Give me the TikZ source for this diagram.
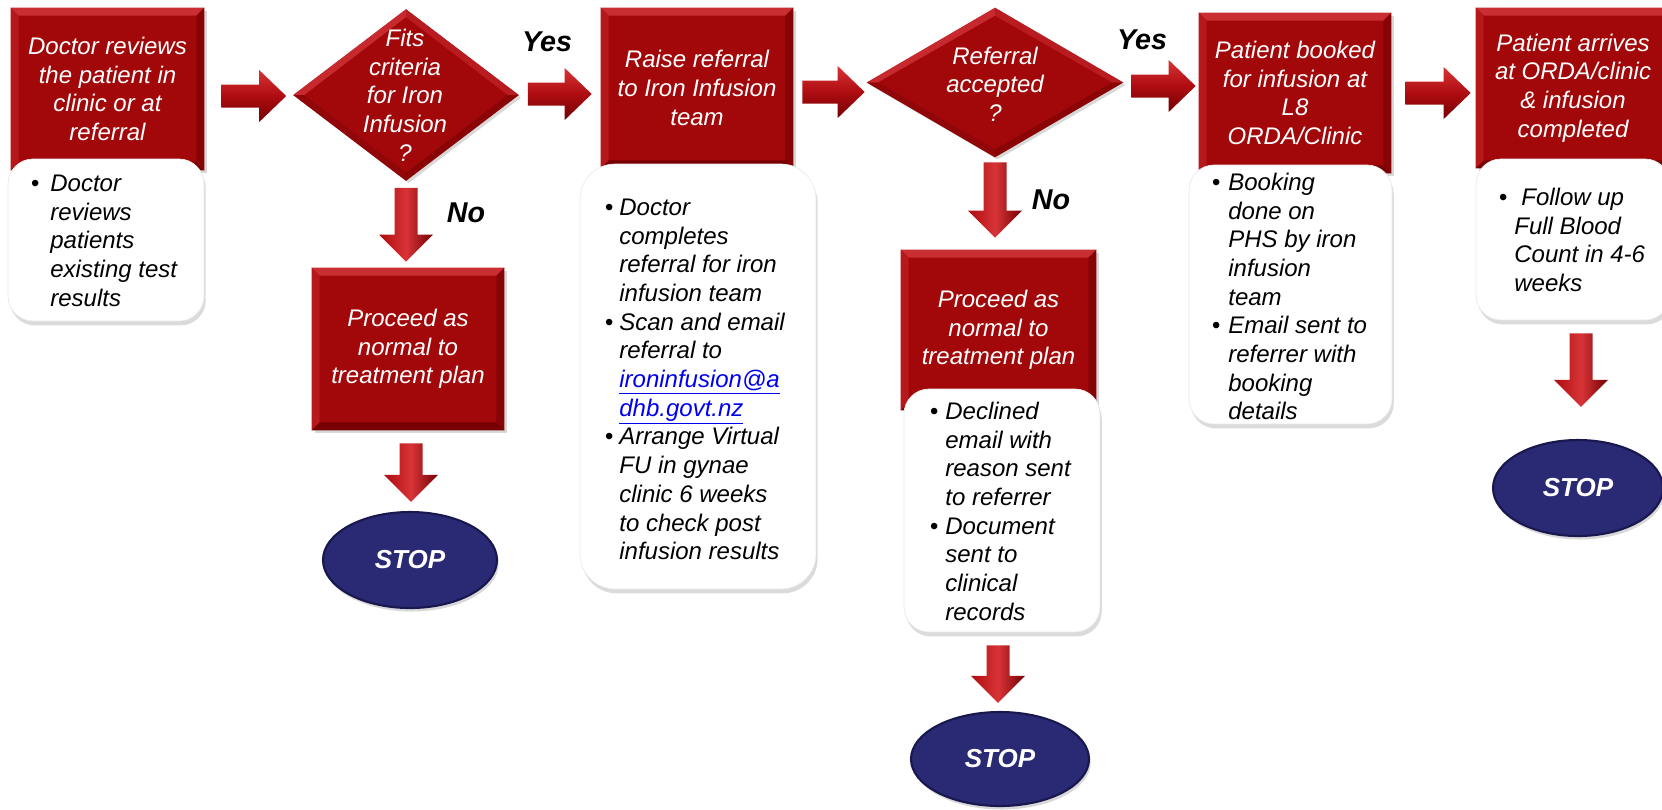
\documentclass[tikz,border=0pt]{standalone}
\usepackage{fontspec}
\setmainfont{Liberation Sans}
\usetikzlibrary{shapes.geometric,calc,shadows}
\newlength\pxu
\setlength\pxu{0.02cm}
\definecolor{rred}{RGB}{162,8,10}
\definecolor{bevT}{RGB}{200,46,50}
\definecolor{bevL}{RGB}{182,24,28}
\definecolor{bevR}{RGB}{134,4,6}
\definecolor{bevB}{RGB}{118,0,2}
\definecolor{dbTL}{RGB}{198,42,46}
\definecolor{dbTR}{RGB}{184,28,32}
\definecolor{dbBR}{RGB}{138,4,6}
\definecolor{dbBL}{RGB}{145,6,8}
\definecolor{arrLight}{RGB}{216,52,56}
\definecolor{arrMid}{RGB}{174,12,16}
\definecolor{arrDark}{RGB}{115,0,2}
\definecolor{sblue}{RGB}{42,41,115}
\definecolor{sblueD}{RGB}{24,23,78}
\definecolor{linkblue}{RGB}{0,0,238}
\newcommand\mtxt{\fontsize{13.66}{16.33}\selectfont\itshape}
\newcommand\lbltxt{\fontsize{16.3}{19}\selectfont\bfseries\itshape}
\newcommand\stoptxt{\fontsize{14.8}{17}\selectfont\bfseries\itshape}
\newcommand\bul[1]{\llap{\textbullet\hspace{#1\pxu}}}
\newcommand\lnk[1]{\textcolor{linkblue}{\underline{#1}}}
\newcommand\bevel[1]{%
 \fill[bevT] (#1.north west) -- (#1.north east) -- ($(#1.north east)+(-8,8)$) -- ($(#1.north west)+(8,8)$) -- cycle;
 \fill[bevL] (#1.north west) -- ($(#1.north west)+(8,8)$) -- ($(#1.south west)+(8,-8)$) -- (#1.south west) -- cycle;
 \fill[bevR] (#1.north east) -- ($(#1.north east)+(-8,8)$) -- ($(#1.south east)+(-8,-8)$) -- (#1.south east) -- cycle;
 \fill[bevB] (#1.south west) -- ($(#1.south west)+(8,-8)$) -- ($(#1.south east)+(-8,-8)$) -- (#1.south east) -- cycle;}
\newcommand\dbevel[1]{%
 \fill[dbTL] (#1.west) -- (#1.north) -- ($(#1.north)+(0,8)$) -- ($(#1.west)+(11,0)$) -- cycle;
 \fill[dbTR] (#1.north) -- (#1.east) -- ($(#1.east)+(-11,0)$) -- ($(#1.north)+(0,8)$) -- cycle;
 \fill[dbBR] (#1.east) -- (#1.south) -- ($(#1.south)+(0,-8)$) -- ($(#1.east)+(-11,0)$) -- cycle;
 \fill[dbBL] (#1.south) -- (#1.west) -- ($(#1.west)+(11,0)$) -- ($(#1.south)+(0,-8)$) -- cycle;}
\newcommand\rarr[2]{\path[rarrow] let \p1=(#1), \p2=(#2) in
 ({\x1},{\y2+11.5*\pxu}) -- ({\x2-27*\pxu},{\y2+11.5*\pxu}) -- ({\x2-27*\pxu},{\y2+26*\pxu}) -- (\x2,\y2)
 -- ({\x2-27*\pxu},{\y2-26*\pxu}) -- ({\x2-27*\pxu},{\y2-11.5*\pxu}) -- ({\x1},{\y2-11.5*\pxu}) -- cycle;}
\newcommand\darr[2]{\path[darrow] let \p1=(#1), \p2=(#2) in
 ({\x1-11.5*\pxu},{\y1}) -- ({\x1-11.5*\pxu},{\y2+27*\pxu}) -- ({\x1-27*\pxu},{\y2+27*\pxu}) -- (\x1,\y2)
 -- ({\x1+27*\pxu},{\y2+27*\pxu}) -- ({\x1+11.5*\pxu},{\y2+27*\pxu}) -- ({\x1+11.5*\pxu},{\y1}) -- cycle;}
\tikzset{
 redbox/.style={rectangle, fill=rred, inner sep=0pt, align=center, text=white, font=\mtxt,
   drop shadow={shadow xshift=1.5pt, shadow yshift=-1.5pt, opacity=.3}},
 dshape/.style={diamond, fill=rred, inner sep=0pt,
   drop shadow={shadow xshift=1.5pt, shadow yshift=-1.5pt, opacity=.3}},
 dtext/.style={align=center, text=white, font=\mtxt, inner sep=0pt},
 whitebox/.style={rectangle, rounded corners=0.5cm, fill=white, draw=black!8, inner sep=0pt,
   drop shadow={shadow xshift=1pt, shadow yshift=-2.5pt, opacity=.28}},
 btext/.style={anchor=north west, align=left, inner sep=0pt, font=\mtxt, text=black},
 stopnode/.style={ellipse, fill=sblue, draw=sblueD, line width=1.2pt, text=white, font=\stoptxt, inner sep=0pt,
   drop shadow={shadow xshift=1pt, shadow yshift=-2pt, opacity=.3}},
 lbl/.style={font=\lbltxt, text=black, inner sep=0pt},
 rarrow/.style={top color=arrLight, bottom color=arrDark, middle color=arrMid},
 darrow/.style={left color=arrMid, right color=arrDark, middle color=arrLight},
}
\begin{document}
\begin{tikzpicture}[x=0.02cm,y=-0.02cm]
\fill[white] (0,0) rectangle (1662,809);
\useasboundingbox (0,0) rectangle (1662,809);

% red process boxes
\node[redbox, minimum width=3.86cm, minimum height=3.24cm] (b1) at (107.5,89) {Doctor reviews\\the patient in\\clinic or at\\referral};
\bevel{b1}
\node[redbox, minimum width=3.84cm, minimum height=3.2cm] (b2) at (697,88) {Raise referral\\to Iron Infusion\\team};
\bevel{b2}
\node[redbox, minimum width=3.84cm, minimum height=3.2cm] (b4) at (1295,93) {Patient booked\\for infusion at\\L8\\ORDA/Clinic};
\bevel{b4}
\node[redbox, minimum width=3.88cm, minimum height=3.2cm] (b5) at (1573,88) {Patient arrives\\at ORDA/clinic\\\& infusion\\completed};
\bevel{b5}
\node[redbox, minimum width=3.84cm, minimum height=3.24cm] (p1) at (408,349) {Proceed as\\normal to\\treatment plan};
\bevel{p1}
\node[redbox, minimum width=3.9cm, minimum height=3.2cm] (p2) at (998.5,330) {Proceed as\\normal to\\treatment plan};
\bevel{p2}

% decision diamonds
\node[dshape, minimum width=4.5cm, minimum height=3.42cm] (d1) at (406,95) {};
\dbevel{d1}
\node[dtext] (d1t) at (405,95) {Fits\\criteria\\for Iron\\Infusion\\?};
\node[dshape, minimum width=5.12cm, minimum height=2.98cm] (d2) at (995,82.5) {};
\dbevel{d2}
\node[dtext] (d2t) at (995,84) {Referral\\accepted\\?};

% white detail boxes
\node[whitebox, minimum width=3.92cm, minimum height=3.24cm] (w1) at (106,240) {};
\node[whitebox, minimum width=4.72cm, minimum height=8.5cm, rounded corners=0.7cm] (w2) at (698,376.5) {};
\node[whitebox, minimum width=3.92cm, minimum height=4.86cm] (w3) at (1002,510.5) {};
\node[whitebox, minimum width=4.06cm, minimum height=5.18cm] (w4) at (1290.5,294.5) {};
\node[whitebox, minimum width=3.88cm, minimum height=3.22cm] (w5) at (1573,239.5) {};

\node[btext] (t1) at (50,171) {\strut\bul{11}Doctor\\reviews\\patients\\existing test\\results};
\node[btext] (t2) at (619,195) {\strut\bul{6}Doctor\\completes\\referral for iron\\infusion team\\\bul{6}Scan and email\\referral to\\\lnk{ironinfusion@a}\\\lnk{dhb.govt.nz}\\\bul{6}Arrange Virtual\\FU in gynae\\clinic 6 weeks\\to check post\\infusion results};
\node[btext] (t3) at (945,399) {\strut\bul{7}Declined\\email with\\reason sent\\to referrer\\\bul{7}Document\\sent to\\clinical\\records};
\node[btext] (t4) at (1228,170) {\strut\bul{8}Booking\\done on\\PHS by iron\\infusion\\team\\\bul{8}Email sent to\\referrer with\\booking\\details};
\node[btext] (t5) at (1514,185) {\strut\bul{7}\hspace{7\pxu}Follow up\\Full Blood\\Count in 4-6\\weeks};

% STOP terminals
\node[stopnode, minimum width=3.48cm, minimum height=1.92cm] (s1) at (410,560) {STOP};
\node[stopnode, minimum width=3.56cm, minimum height=1.88cm] (s2) at (1000,759) {STOP};
\node[stopnode, minimum width=3.4cm, minimum height=1.92cm] (s3) at (1578,488) {STOP};

% labels
\node[lbl] (yes1) at (547,42) {Yes};
\node[lbl] (yes2) at (1142,40) {Yes};
\node[lbl] (no1) at (466,213) {No};
\node[lbl] (no2) at (1051,200) {No};

% block arrows
\rarr{$(b1.east)+(17,0)$}{$(d1.west)+(-7,1)$}
\rarr{$(d1.east)+(9,0)$}{$(b2.west)+(-9,6)$}
\rarr{$(b2.east)+(9,0)$}{$(d2.west)+(-2,9.5)$}
\rarr{$(d2.east)+(8,0)$}{$(b4.west)+(-3,-7)$}
\rarr{$(b4.east)+(14,0)$}{$(b5.west)+(-5,5)$}
\darr{$(d1.south)+(0,7)$}{$(p1.north)+(0,-6)$}
\darr{$(p1.south)+(3,13)$}{$(s1.north)+(0,-9)$}
\darr{$(d2.south)+(0,5)$}{$(p2.north)+(0,-12)$}
\darr{$(w3.south)+(-4,13)$}{$(s2.north)+(0,-8)$}
\darr{$(w5.south)+(8,13)$}{$(s3.north)+(0,-32)$}
\end{tikzpicture}
\end{document}
